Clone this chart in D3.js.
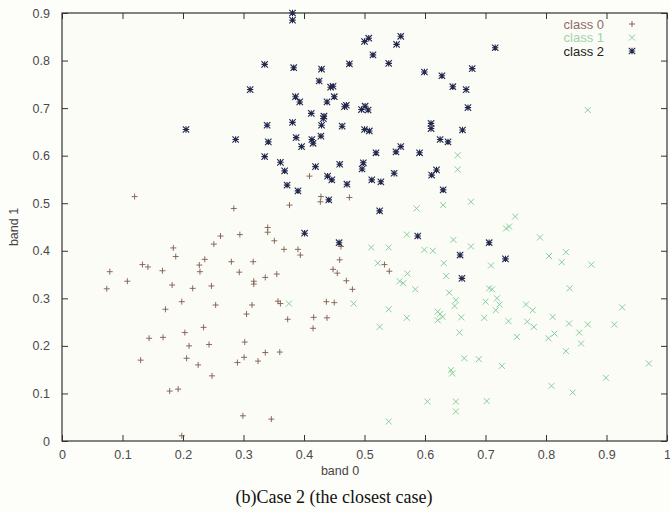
<!DOCTYPE html>
<html>
<head>
<meta charset="utf-8">
<script src="https://cdn.jsdelivr.net/npm/d3@7"></script>
<style>
  body { margin: 0; background: #fdfdf9; }
  .tick text { font-family: "Liberation Sans", Arial, sans-serif; font-size: 12.5px; fill: #4a4a4a; }
  .tick line { stroke: #333; }
  .domain { stroke: none; }
</style>
</head>
<body>
<div id="box"></div>
<script>
// class 0 : "+" , class 1 : "x" , class 2 : "*"   [band 0, band 1]
const class0 = [[0.12,0.514],[0.409,0.557],[0.284,0.489],[0.376,0.496],[0.428,0.514],[0.427,0.503],[0.475,0.512],[0.34,0.449],[0.34,0.439],[0.262,0.431],[0.294,0.434],[0.251,0.414],[0.351,0.421],[0.367,0.403],[0.39,0.403],[0.394,0.391],[0.461,0.409],[0.459,0.381],[0.236,0.382],[0.28,0.377],[0.316,0.377],[0.448,0.361],[0.455,0.353],[0.293,0.355],[0.317,0.336],[0.317,0.33],[0.336,0.344],[0.355,0.351],[0.47,0.337],[0.48,0.319],[0.247,0.326],[0.228,0.356],[0.357,0.294],[0.361,0.289],[0.314,0.286],[0.437,0.293],[0.45,0.291],[0.254,0.286],[0.305,0.267],[0.373,0.256],[0.416,0.26],[0.415,0.237],[0.438,0.259],[0.234,0.239],[0.243,0.203],[0.302,0.208],[0.29,0.165],[0.301,0.176],[0.324,0.168],[0.336,0.186],[0.36,0.187],[0.248,0.137],[0.299,0.053],[0.346,0.046],[0.074,0.32],[0.079,0.356],[0.108,0.336],[0.133,0.371],[0.142,0.366],[0.184,0.406],[0.188,0.388],[0.166,0.358],[0.182,0.328],[0.171,0.277],[0.198,0.293],[0.216,0.321],[0.227,0.37],[0.144,0.216],[0.167,0.218],[0.203,0.228],[0.21,0.2],[0.13,0.17],[0.206,0.174],[0.225,0.16],[0.178,0.105],[0.192,0.109],[0.198,0.011],[0.541,0.357],[0.533,0.371]];

const class1 = [[0.869,0.696],[0.654,0.601],[0.654,0.571],[0.63,0.496],[0.676,0.503],[0.749,0.472],[0.739,0.451],[0.734,0.447],[0.586,0.489],[0.57,0.434],[0.511,0.407],[0.54,0.407],[0.599,0.402],[0.613,0.4],[0.522,0.374],[0.558,0.336],[0.564,0.332],[0.571,0.352],[0.584,0.319],[0.482,0.289],[0.54,0.277],[0.57,0.259],[0.525,0.24],[0.621,0.272],[0.621,0.254],[0.604,0.083],[0.54,0.041],[0.375,0.289],[0.647,0.423],[0.676,0.409],[0.79,0.428],[0.833,0.397],[0.826,0.376],[0.875,0.371],[0.805,0.389],[0.631,0.374],[0.709,0.369],[0.635,0.347],[0.706,0.321],[0.711,0.319],[0.64,0.312],[0.651,0.296],[0.649,0.284],[0.7,0.293],[0.719,0.3],[0.723,0.287],[0.717,0.275],[0.625,0.267],[0.629,0.261],[0.66,0.26],[0.698,0.259],[0.738,0.252],[0.767,0.287],[0.778,0.275],[0.769,0.251],[0.78,0.24],[0.839,0.321],[0.926,0.281],[0.811,0.261],[0.869,0.245],[0.913,0.245],[0.838,0.247],[0.814,0.226],[0.804,0.216],[0.855,0.228],[0.858,0.205],[0.752,0.219],[0.657,0.228],[0.833,0.189],[0.665,0.174],[0.689,0.172],[0.727,0.158],[0.643,0.149],[0.645,0.142],[0.97,0.163],[0.809,0.116],[0.899,0.133],[0.844,0.102],[0.651,0.083],[0.651,0.062],[0.702,0.084]];

const class2 = [[0.381,0.9],[0.381,0.885],[0.507,0.847],[0.5,0.84],[0.56,0.851],[0.553,0.834],[0.514,0.812],[0.54,0.794],[0.335,0.792],[0.383,0.785],[0.429,0.782],[0.475,0.793],[0.599,0.776],[0.425,0.757],[0.448,0.746],[0.444,0.744],[0.311,0.739],[0.45,0.724],[0.386,0.724],[0.393,0.713],[0.438,0.713],[0.47,0.706],[0.467,0.703],[0.495,0.697],[0.501,0.704],[0.506,0.696],[0.412,0.689],[0.433,0.683],[0.432,0.678],[0.339,0.664],[0.381,0.67],[0.429,0.664],[0.463,0.662],[0.5,0.655],[0.508,0.652],[0.61,0.668],[0.61,0.657],[0.287,0.634],[0.341,0.629],[0.387,0.638],[0.413,0.634],[0.415,0.626],[0.396,0.619],[0.428,0.641],[0.519,0.606],[0.552,0.608],[0.56,0.619],[0.591,0.606],[0.335,0.598],[0.361,0.586],[0.368,0.568],[0.419,0.577],[0.459,0.582],[0.498,0.585],[0.496,0.572],[0.439,0.557],[0.446,0.549],[0.549,0.563],[0.611,0.559],[0.619,0.57],[0.372,0.538],[0.39,0.526],[0.471,0.54],[0.512,0.549],[0.527,0.545],[0.441,0.507],[0.525,0.484],[0.716,0.827],[0.678,0.783],[0.628,0.768],[0.646,0.745],[0.668,0.739],[0.671,0.701],[0.662,0.654],[0.625,0.634],[0.638,0.629],[0.63,0.528],[0.205,0.655],[0.588,0.431],[0.401,0.437],[0.458,0.417],[0.706,0.417],[0.658,0.391],[0.733,0.383],[0.661,0.342]];

const xTicks = [0, 0.1, 0.2, 0.3, 0.4, 0.5, 0.6, 0.7, 0.8, 0.9, 1];
const yTicks = [0, 0.1, 0.2, 0.3, 0.4, 0.5, 0.6, 0.7, 0.8, 0.9];
const classNames = ["class 0", "class 1", "class 2"];
const markColors = ["#7e5a4e", "#78c894", "#23284f"];
const textColors = ["#8e6c6c", "#9cd3ac", "#222222"];

const margin = { top: 13, right: 3, bottom: 71, left: 62 };
const width = 670 - margin.left - margin.right;
const height = 512 - margin.top - margin.bottom;

const svg = d3.select('#box').append('svg')
    .attr('width', 670)
    .attr('height', 512);

const g = svg.append('g')
    .attr('transform', `translate(${margin.left},${margin.top})`);

const x = d3.scaleLinear().domain([0, 1]).range([0, width]);
const y = d3.scaleLinear().domain([0, 0.9]).range([height, 0]);

g.append('rect')
    .attr('width', width).attr('height', height)
    .attr('fill', '#fcfcf6');

// axes, ticks pointing inward like gnuplot
g.append('g').attr('transform', `translate(0,${height})`)
    .call(d3.axisBottom(x).tickValues(xTicks).tickSize(-6).tickPadding(9)
        .tickFormat(d => d === 0 || d === 1 ? d : d3.format('.1f')(d)));
g.append('g')
    .call(d3.axisLeft(y).tickValues(yTicks).tickSize(-6).tickPadding(12)
        .tickFormat(d => d === 0 ? '0' : d3.format('.1f')(d)));
g.append('g')
    .call(d3.axisTop(x).tickValues(xTicks).tickSize(-6).tickFormat(''));
g.append('g').attr('transform', `translate(${width},0)`)
    .call(d3.axisRight(y).tickValues(yTicks).tickSize(-6).tickFormat(''));

g.append('rect')
    .attr('width', width).attr('height', height)
    .attr('fill', 'none').attr('stroke', '#333').attr('stroke-width', 1.2);

function plus(sel, c) {
  const s = 3;
  sel.append('path').attr('d', `M${-s},0H${s}M0,${-s}V${s}`)
    .attr('stroke', c).attr('stroke-width', 0.9).attr('fill', 'none');
}
function cross(sel, c) {
  const s = 3;
  sel.append('path').attr('d', `M${-s},${-s}L${s},${s}M${-s},${s}L${s},${-s}`)
    .attr('stroke', c).attr('stroke-width', 0.9).attr('fill', 'none');
}
function star(sel, c) {
  const s = 3.2;
  sel.append('path').attr('d', `M${-s},${-s}L${s},${s}M${-s},${s}L${s},${-s}M${-s},0H${s}M0,${-s}V${s}`)
    .attr('stroke', c).attr('stroke-width', 1.1).attr('fill', 'none');
}
const drawers = [plus, cross, star];

[class0, class1, class2].forEach((pts, k) => {
  g.append('g').selectAll('g').data(pts).join('g')
    .attr('transform', d => `translate(${x(d[0])},${y(d[1])})`)
    .each(function () { drawers[k](d3.select(this), markColors[k]); });
});

// legend
const leg = g.append('g').attr('transform', `translate(${width - 63},11)`);
classNames.forEach((n, k) => {
  leg.append('text')
    .attr('x', 0).attr('y', k * 13.5).attr('dy', '0.35em')
    .attr('text-anchor', 'end')
    .attr('font-family', 'Liberation Sans, Arial, sans-serif')
    .attr('font-size', '13px')
    .attr('fill', textColors[k])
    .text(n);
  const m = leg.append('g').attr('transform', `translate(28,${k * 13.5})`);
  drawers[k](m, markColors[k]);
});

svg.append('text')
    .attr('x', 340).attr('y', 475)
    .attr('text-anchor', 'middle')
    .attr('font-family', 'Liberation Sans, Arial, sans-serif')
    .attr('font-size', '12.5px').attr('fill', '#444')
    .text('band 0');

svg.append('text')
    .attr('transform', `translate(18,${margin.top + height / 2}) rotate(-90)`)
    .attr('text-anchor', 'middle')
    .attr('font-family', 'Liberation Sans, Arial, sans-serif')
    .attr('font-size', '12.5px').attr('fill', '#444')
    .text('band 1');

svg.append('text')
    .attr('x', 334).attr('y', 503)
    .attr('text-anchor', 'middle')
    .attr('font-family', 'Liberation Serif, Times New Roman, serif')
    .attr('font-size', '18px').attr('fill', '#111')
    .text('(b)Case 2 (the closest case)');
</script>
</body>
</html>
